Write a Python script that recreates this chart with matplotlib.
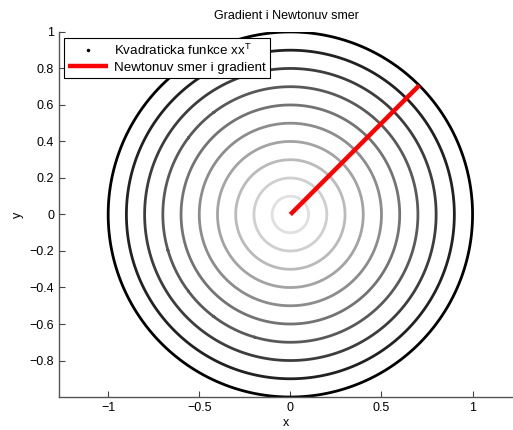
import numpy as np
import matplotlib
matplotlib.use("Agg")
import matplotlib.pyplot as plt

plt.rcParams['font.family'] = ['Liberation Sans', 'DejaVu Sans']

# contour radii of f(x) = x x^T, inner (light) to outer (black)
radii = [0.1, 0.2, 0.3, 0.4, 0.5, 0.6, 0.7, 0.8, 0.9, 1.0]
grays = [0.88, 0.81, 0.73, 0.64, 0.55, 0.45, 0.35, 0.24, 0.13, 0.0]

# Newton direction / gradient segment
dir_x = [0.0, 0.7071]
dir_y = [0.0, 0.7071]

xticks = [-1, -0.5, 0, 0.5, 1]
yticks = [-0.8, -0.6, -0.4, -0.2, 0, 0.2, 0.4, 0.6, 0.8, 1]

fig = plt.figure(figsize=(5.13, 4.30), dpi=100)
ax = fig.add_axes([0.115, 0.0767, 0.885, 0.849])

t = np.linspace(-1.05, 1.05, 601)
X, Y = np.meshgrid(t, t)
Z = X**2 + Y**2
levels = [r**2 for r in radii]
ax.contour(X, Y, Z, levels=levels, colors=[str(g) for g in grays], linewidths=2.0)

ax.plot([], [], 'k.', ms=3, label=r"Kvadraticka funkce xx$^\mathregular{T}$")
ax.plot(dir_x, dir_y, '-', color='red', lw=3.2, label="Newtonuv smer i gradient",
        solid_capstyle='butt')

ax.set_xlim(-1.27, 1.222)
ax.set_ylim(-1.0, 1.0)
ax.set_xticks(xticks)
ax.set_yticks(yticks)
ax.set_xticklabels(["\u22121", "\u22120.5", "0", "0.5", "1"])
ax.set_yticklabels([("\u2212" + f"{abs(v):g}") if v < 0 else f"{v:g}" for v in yticks])
ax.tick_params(direction='in', length=4, labelsize=9, colors='#444444',
               labelcolor='black', width=0.8)
for s in ['top', 'right']:
    ax.spines[s].set_visible(False)
for s in ['left', 'bottom']:
    ax.spines[s].set_color('#555555')
    ax.spines[s].set_linewidth(1.0)

ax.set_title("Gradient i Newtonuv smer", fontsize=9, pad=9)
ax.set_xlabel("x", fontsize=9, labelpad=2)
ax.set_ylabel("y", fontsize=9, labelpad=4)

leg = ax.legend(loc='upper left', bbox_to_anchor=(0.0, 0.995), fontsize=9.6,
                fancybox=False, framealpha=1, edgecolor='black',
                borderpad=0.3, handlelength=3.0, labelspacing=0.3,
                handletextpad=0.5, borderaxespad=0.35)
leg.get_frame().set_linewidth(0.8)

fig.savefig("out.png", dpi=100)
